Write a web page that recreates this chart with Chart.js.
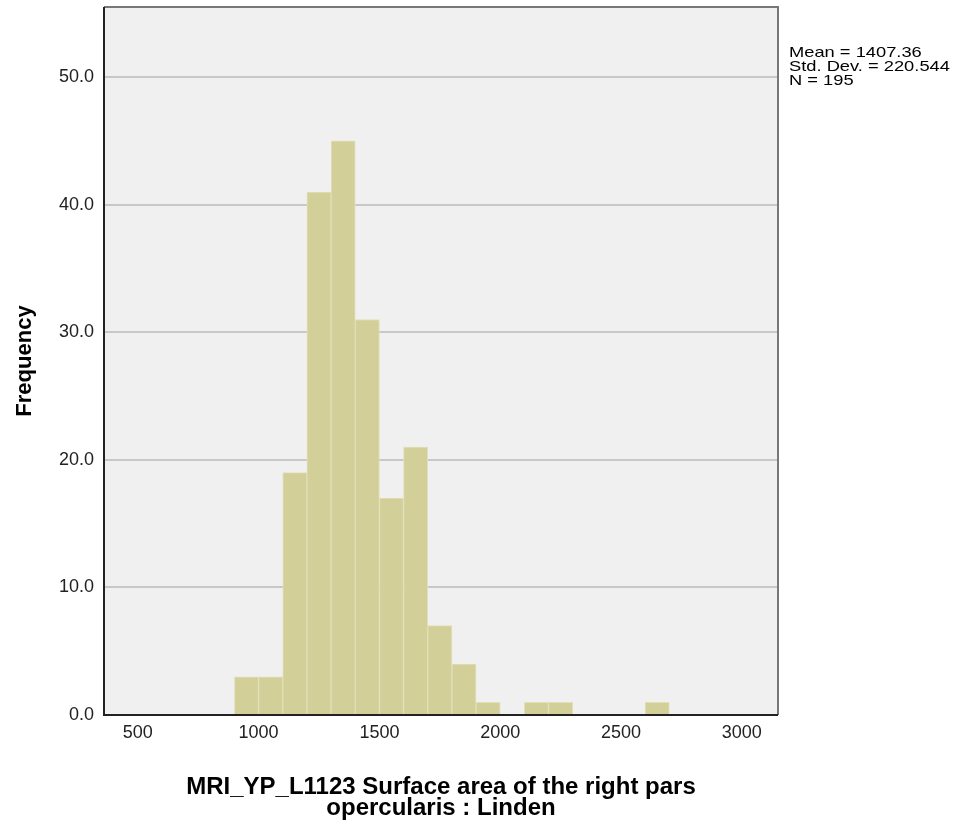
<!DOCTYPE html>
<html>
<head>
<meta charset="utf-8">
<script src="https://cdn.jsdelivr.net/npm/chart.js@4.4.1/dist/chart.umd.min.js"></script>
<style>
  html, body { margin: 0; padding: 0; background: #fff; }
  #wrap { width: 954px; height: 825px; }
</style>
</head>
<body>
<div id="wrap"><canvas id="hist"></canvas></div>
<script>
// histogram bins (bin centre) and frequencies
const binCentres = [950, 1050, 1150, 1250, 1350, 1450, 1550, 1650, 1750, 1850, 1950, 2050, 2150, 2250, 2350, 2450, 2550, 2650];
const frequencies = [3, 3, 19, 41, 45, 31, 17, 21, 7, 4, 1, 0, 1, 1, 0, 0, 0, 1];
const xTickValues = [500, 1000, 1500, 2000, 2500, 3000];
const yTickValues = [0, 10, 20, 30, 40, 50];
const statsLines = ['Mean = 1407.36', 'Std. Dev. = 220.544', 'N = 195'];

const points = binCentres.map((c, i) => ({ x: c, y: frequencies[i] }));
const FONT = '"Liberation Sans", Arial, sans-serif';

const plotFrame = {
    id: 'plotFrame',
    beforeDraw(chart) {
        const a = chart.chartArea, ctx = chart.ctx;
        ctx.save();
        ctx.fillStyle = '#f0f0f0';
        ctx.fillRect(a.left, a.top, a.right - a.left, a.bottom - a.top);
        ctx.restore();
    },
    afterDraw(chart) {
        const a = chart.chartArea, ctx = chart.ctx;
        ctx.save();
        ctx.strokeStyle = '#777';
        ctx.lineWidth = 2;
        ctx.beginPath();
        ctx.moveTo(a.left, a.top);
        ctx.lineTo(a.right, a.top);
        ctx.lineTo(a.right, a.bottom);
        ctx.stroke();
        ctx.strokeStyle = '#222';
        ctx.beginPath();
        ctx.moveTo(a.left, a.top);
        ctx.lineTo(a.left, a.bottom);
        ctx.lineTo(a.right, a.bottom);
        ctx.stroke();
        // stats text, wide like the SPSS output
        ctx.fillStyle = '#000';
        ctx.font = '15px ' + FONT;
        ctx.textBaseline = 'alphabetic';
        ctx.translate(a.right + 11, 0);
        ctx.scale(1.22, 1);
        statsLines.forEach((t, i) => ctx.fillText(t, 0, 57 + i * 14));
        ctx.restore();
    }
};

new Chart(document.getElementById('hist'), {
    type: 'bar',
    data: {
        datasets: [{
            data: points,
            backgroundColor: '#d3cf98',
            borderColor: '#e2dfb9',
            borderWidth: 1,
            barPercentage: 1,
            categoryPercentage: 1
        }]
    },
    options: {
        responsive: true,
        maintainAspectRatio: false,
        animation: false,
        layout: { padding: { top: 7, right: 176, left: 0, bottom: 0 } },
        plugins: {
            legend: { display: false },
            tooltip: { enabled: false }
        },
        scales: {
            x: {
                type: 'linear',
                offset: false,
                min: 360,
                max: 3150,
                afterBuildTicks: s => { s.ticks = xTickValues.map(v => ({ value: v })); },
                afterFit: s => { s.height = 110; s.paddingLeft = 0; s.paddingRight = 0; },
                grid: { display: false, drawTicks: false },
                border: { display: false },
                ticks: {
                    color: '#222',
                    padding: 7,
                    maxRotation: 0,
                    callback: v => String(v),
                    font: { family: FONT, size: 18 }
                },
                title: {
                    display: true,
                    text: ['MRI_YP_L1123 Surface area of the right pars', 'opercularis : Linden'],
                    color: '#000',
                    font: { family: FONT, size: 24, weight: 'bold', lineHeight: 0.84 },
                    padding: { top: 0, bottom: 7 }
                }
            },
            y: {
                min: 0,
                max: 55.5,
                afterBuildTicks: s => { s.ticks = yTickValues.map(v => ({ value: v })); },
                afterFit: s => { s.width = 104; s.paddingTop = 0; s.paddingBottom = 0; },
                grid: { color: '#c8c8c8', lineWidth: 2, drawTicks: false },
                border: { display: false },
                ticks: {
                    color: '#222',
                    padding: 10,
                    callback: v => v.toFixed(1),
                    font: { family: FONT, size: 18 }
                },
                title: {
                    display: true,
                    text: 'Frequency',
                    color: '#000',
                    font: { family: FONT, size: 22, weight: 'bold' },
                    padding: { top: 12, bottom: 0 }
                }
            }
        }
    },
    plugins: [plotFrame]
});
</script>
</body>
</html>
